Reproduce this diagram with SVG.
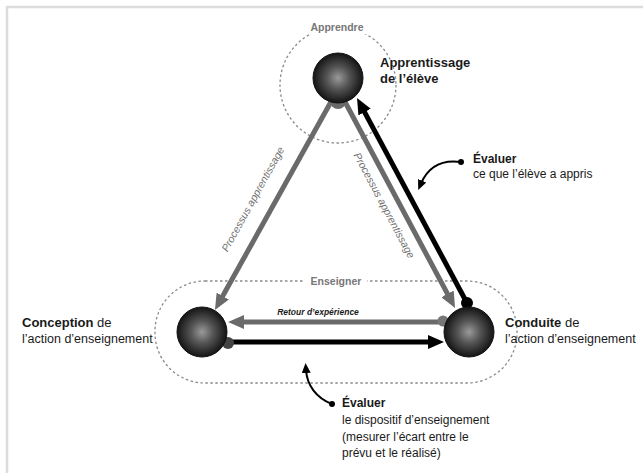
<svg xmlns="http://www.w3.org/2000/svg" width="643" height="473" viewBox="0 0 643 473">
<style>
.lbl{font-family:"Liberation Sans",Arial,sans-serif;fill:#1a1a1a}
.b{font-weight:bold}
.zone{font-family:"Liberation Sans",Arial,sans-serif;font-size:10.5px;font-weight:bold;fill:#777}
.proc{font-family:"Liberation Sans",Arial,sans-serif;font-size:10.5px;font-style:italic;fill:#6f6f6f}
.dash{fill:none;stroke:#8a8a8a;stroke-width:1.3;stroke-dasharray:2.5 2.5}
.sphere{fill:url(#sph);stroke:#111;stroke-width:1}
.gline{stroke:#6a6a6a;stroke-width:5;fill:none}
.kline{stroke:#000;stroke-width:5;fill:none}
.thin{stroke:#000;stroke-width:2;fill:none}
</style>
<defs>
<radialGradient id="sph" cx="0.5" cy="0.5" r="0.5">
<stop offset="0" stop-color="#9a9a9a"/>
<stop offset="0.45" stop-color="#555"/>
<stop offset="1" stop-color="#141414"/>
</radialGradient>
<marker id="ag" viewBox="0 0 16 14" refX="4" refY="7" markerWidth="16" markerHeight="14" markerUnits="userSpaceOnUse" orient="auto">
<path d="M0,0 L16,7 L0,14 z" fill="#6a6a6a"/>
</marker>
<marker id="ak" viewBox="0 0 16 14" refX="4" refY="7" markerWidth="16" markerHeight="14" markerUnits="userSpaceOnUse" orient="auto">
<path d="M0,0 L16,7 L0,14 z" fill="#000"/>
</marker>
<marker id="as" viewBox="0 0 10 9" refX="3" refY="4.5" markerWidth="10" markerHeight="9" markerUnits="userSpaceOnUse" orient="auto">
<path d="M0,0 L10,4.5 L0,9 z" fill="#000"/>
</marker>
</defs>
<rect x="0" y="0" width="643" height="473" fill="#fff"/>
<rect x="7" y="7" width="700" height="520" fill="none" stroke="#dcdcdc" stroke-width="2.5"/>

<g id="zones">
<circle class="dash" cx="338" cy="85" r="58"/>
<rect x="304" y="20" width="67" height="14" fill="#fff"/>
<text class="zone" x="337" y="31" text-anchor="middle">Apprendre</text>
<rect class="dash" x="155" y="281" width="362" height="102" rx="50" ry="50"/>
<rect x="305" y="274" width="62" height="14" fill="#fff"/>
<text class="zone" x="336" y="285" text-anchor="middle">Enseigner</text>
</g>

<g id="connectors">
<circle cx="338" cy="101" r="8" fill="#6a6a6a"/>
<line class="gline" x1="332" y1="100" x2="220.8" y2="299.5" marker-end="url(#ag)"/>
<line class="gline" x1="344" y1="100" x2="449.4" y2="297.4" marker-end="url(#ag)"/>
<line class="kline" x1="467" y1="303" x2="362.7" y2="108.6" marker-end="url(#ak)"/>
<circle cx="467" cy="303" r="6" fill="#000"/>
<line class="gline" x1="442" y1="322" x2="240" y2="322" marker-end="url(#ag)"/>
<circle cx="443" cy="321" r="5.5" fill="#777"/>
<line class="kline" x1="228" y1="342" x2="432" y2="342" marker-end="url(#ak)"/>
<circle cx="228" cy="343" r="6" fill="#444"/>
<path class="thin" d="M461,162 Q432,158 421,183.5" marker-end="url(#as)"/>
<circle cx="461" cy="162" r="3" fill="#000"/>
<path class="thin" d="M332,404 C316,398 307,385 306,370" marker-end="url(#as)"/>
<circle cx="332" cy="404" r="3" fill="#000"/>
<text class="proc" transform="translate(256,201) rotate(-61)" text-anchor="middle">Processus apprentissage</text>
<text class="proc" transform="translate(381,207) rotate(62)" text-anchor="middle">Processus apprentissage</text>
<text class="lbl" x="318" y="315" text-anchor="middle" font-size="8.5" font-style="italic" font-weight="bold" fill="#333">Retour d’expérience</text>
</g>

<g id="node-eleve">
<circle class="sphere" cx="338" cy="78" r="25"/>
<text class="lbl b" x="380" y="67" font-size="13">Apprentissage</text>
<text class="lbl b" x="380" y="83" font-size="13">de l’élève</text>
</g>

<g id="node-conception">
<circle class="sphere" cx="202" cy="332" r="25"/>
<text class="lbl" x="22" y="327" font-size="13"><tspan class="b">Conception</tspan> de</text>
<text class="lbl" x="22" y="343" font-size="12.5">l’action d’enseignement</text>
</g>

<g id="node-conduite">
<circle class="sphere" cx="469" cy="332" r="25"/>
<text class="lbl" x="505" y="327" font-size="13"><tspan class="b">Conduite</tspan> de</text>
<text class="lbl" x="505" y="343" font-size="12.5">l’action d’enseignement</text>
</g>

<g id="note-eleve">
<text class="lbl b" x="473" y="163" font-size="12">Évaluer</text>
<text class="lbl" x="473" y="178" font-size="12">ce que l’élève a appris</text>
</g>

<g id="note-dispositif">
<text class="lbl b" x="342" y="407" font-size="12">Évaluer</text>
<text class="lbl" x="342" y="424" font-size="12">le dispositif d’enseignement</text>
<text class="lbl" x="342" y="441" font-size="12">(mesurer l’écart entre le</text>
<text class="lbl" x="342" y="457" font-size="12">prévu et le réalisé)</text>
</g>
</svg>
